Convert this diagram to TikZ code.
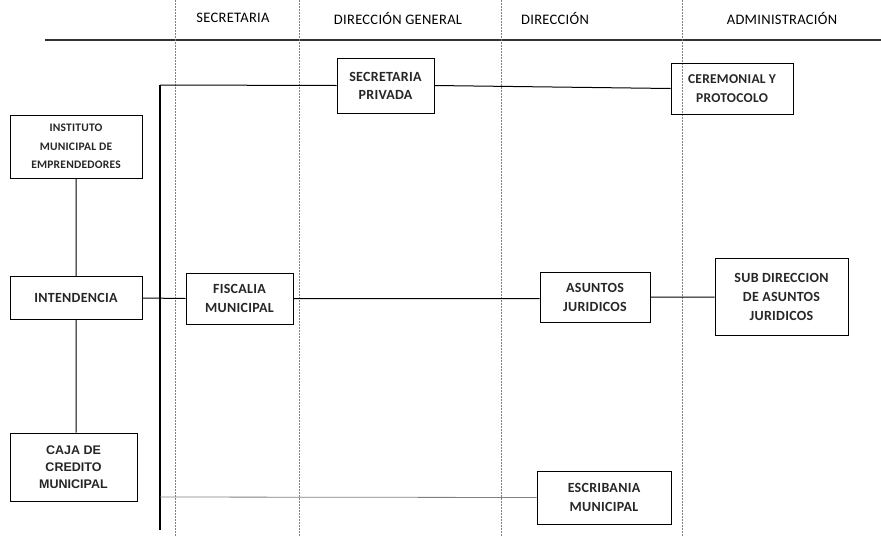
\documentclass[tikz,border=0pt]{standalone}
\usepackage{fontspec}
\setmainfont{Carlito}[LetterSpace=2]
\newfontfamily\arialfont{Liberation Sans}
\usetikzlibrary{backgrounds}

\begin{document}
\begin{tikzpicture} [x=1pt, y=-1pt, line width=1pt]
\tikzstyle{caja}=[draw, line width=1pt, inner sep=0pt, align=center, font=\fontsize{14}{19}\selectfont\bfseries, text=black!85];
\tikzstyle{cabecera}=[font=\fontsize{14.5}{16}\selectfont, text=black];
\tikzstyle{columna}=[draw=gray, line width=0.7pt, dash pattern=on 1.5pt off 1.5pt];
\useasboundingbox (0,0) rectangle (881,536);
% encabezados
\node [cabecera] (h1) at (233,18) {SECRETARIA};
\node [cabecera] (h2) at (398,18) {DIRECCIÓN GENERAL};
\node [cabecera] (h3) at (555,18) {DIRECCIÓN};
\node [cabecera] (h4) at (782,18) {ADMINISTRACIÓN};
\draw [line width=1.5pt, black!80] (45,40) -- (881,40);
\foreach \x in {175,299,501,682}
  \draw [columna] (\x,0) -- (\x,536);
% cajas
\node [caja, minimum width=132, minimum height=63, font=\fontsize{11.5}{18.5}\selectfont\bfseries] (inst) at (76,146.5) {INSTITUTO\\MUNICIPAL DE\\EMPRENDEDORES};
\node [caja, minimum width=132, minimum height=43] (inten) at (76,298) {INTENDENCIA};
\node [caja, minimum width=127, minimum height=68, font=\fontsize{12.5}{17}\selectfont\arialfont\bfseries] (cred) at (73.5,467) {CAJA DE\\CREDITO\\MUNICIPAL};
\node [caja, minimum width=97, minimum height=55, font=\fontsize{14}{18}\selectfont\bfseries] (priv) at (385.5,85.5) {SECRETARIA\\PRIVADA};
\node [caja, minimum width=122, minimum height=51, font=\fontsize{13.5}{19}\selectfont\bfseries] (cere) at (732,88.5) {CEREMONIAL Y\\PROTOCOLO};
\node [caja, minimum width=107, minimum height=51] (fisc) at (239.5,298.5) {FISCALIA\\MUNICIPAL};
\node [caja, minimum width=110, minimum height=50] (asun) at (595,297) {ASUNTOS\\JURIDICOS};
\node [caja, minimum width=133, minimum height=77] (subd) at (781.5,297) {SUB DIRECCION\\DE ASUNTOS\\JURIDICOS};
\node [caja, minimum width=134, minimum height=53] (escr) at (604,497.5) {ESCRIBANIA\\MUNICIPAL};
\coordinate (t0) at (160,85);
\coordinate (t1) at (160,530);
\coordinate (t2) at (160,497);
% lineas
\draw [line width=1.4pt] (t0) -- (t1);
\draw (t0) -- (priv.west)
(priv.east) -- (cere.west)
(inst.south) -- (inten.north)
(inten.south) -- (inten.south |- cred.north)
(inten.east) -- (fisc.west)
(fisc.east) -- (fisc.east -| asun.west)
(asun.east) -- (subd.west);
\draw [gray, line width=0.8pt] (t2) -- (escr.west);
\end{tikzpicture}
\end{document}
